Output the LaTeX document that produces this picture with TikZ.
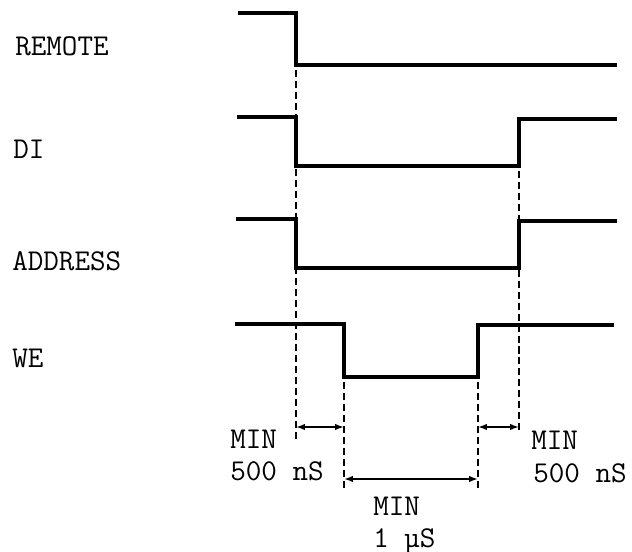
\documentclass[tikz,border=0pt]{standalone}
\usetikzlibrary{arrows.meta}
\begin{document}
\begin{tikzpicture}[x=0.025cm, y=-0.025cm,
  font=\ttfamily\fontsize{21.5}{26}\selectfont,
  wave/.style={line width=2.2pt, line join=miter},
  guide/.style={line width=1.5pt, dash pattern=on 5pt off 2.8pt},
  span/.style={{Latex[length=2.2mm,width=1.6mm]}-{Latex[length=2.2mm,width=1.6mm]}, line width=1.1pt},
  lbl/.style={anchor=base west, inner sep=0pt}]
\useasboundingbox (0,0) rectangle (632,552);
% signal names
\node[lbl] (remote) at (15,55) {REMOTE};
\node[lbl] (di) at (13,158) {DI};
\node[lbl] (address) at (12,270) {ADDRESS};
\node[lbl] (we) at (12,367) {WE};
% waveforms
\draw[wave] (238,13) -- (296,13) -- (296,65) -- (617,65);
\draw[wave] (237,117) -- (296,117) -- (296,166) -- (519,166) -- (519,119) -- (617,119);
\draw[wave] (236,219) -- (296,219) -- (296,268) -- (519,268) -- (519,221) -- (617,221);
\draw[wave] (235,324) -- (344,324) -- (344,377) -- (478,377) -- (478,325) -- (614,325);
% guide lines
\draw[guide] (296,70) -- (296,440);
\draw[guide] (519,171) -- (519,434);
\draw[guide] (344,382) -- (344,490);
\draw[guide] (478,382) -- (478,490);
% timing spans
\coordinate (a1) at (296,427);
\coordinate (a2) at (344,427);
\coordinate (b1) at (344,479);
\coordinate (b2) at (478,479);
\coordinate (c1) at (478,427);
\coordinate (c2) at (519,427);
\draw[span] (a1) -- (a2);
\draw[span] (b1) -- (b2);
\draw[span] (c1) -- (c2);
% limits
\node[lbl] (minl) at (230,448) {MIN};
\node[lbl] (tl) at (230,480) {500 nS};
\node[lbl] (minr) at (531,449) {MIN};
\node[lbl] (tr) at (533,482) {500 nS};
\node[lbl] (minc) at (373,515) {MIN};
\node[lbl] (tc) at (373,547) {1 µS};
\end{tikzpicture}
\end{document}
